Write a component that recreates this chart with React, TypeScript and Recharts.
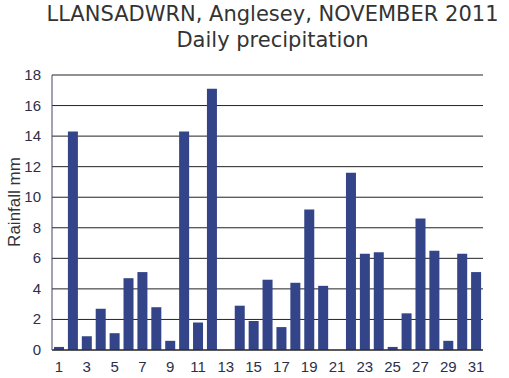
import React from 'react';
import { BarChart, Bar, XAxis, YAxis, CartesianGrid } from 'recharts';

const days = Array.from({ length: 31 }, (_, i) => String(i + 1));
const rainfall = [
  0.2, 14.3, 0.9, 2.7, 1.1, 4.7, 5.1, 2.8, 0.6, 14.3,
  1.8, 17.1, 0, 2.9, 1.9, 4.6, 1.5, 4.4, 9.2, 4.2,
  0, 11.6, 6.3, 6.4, 0.2, 2.4, 8.6, 6.5, 0.6, 6.3, 5.1,
];
const yTicks = [0, 2, 4, 6, 8, 10, 12, 14, 16, 18];

const data = days.map((d, i) => ({ day: d, rain: rainfall[i] }));

const FONT = 'Liberation Sans, Arial, sans-serif';

const XTick = (props: any) => {
  const { x, y, payload } = props;
  return (
    <text x={x} y={y + 14} textAnchor="middle" fontFamily={FONT} fontSize={15} fill="#2e2e4a">
      {payload.value}
    </text>
  );
};

const YTick = (props: any) => {
  const { x, y, payload } = props;
  return (
    <text x={x} y={y + 5} textAnchor="end" fontFamily={FONT} fontSize={15} fill="#2e2e4a">
      {payload.value}
    </text>
  );
};

export default function App() {
  return (
    <div style={{ position: 'absolute', left: 0, top: 0, width: 509, height: 378, background: '#fff' }}>
      <div
        style={{
          position: 'absolute',
          left: 0,
          top: 1,
          width: 545,
          textAlign: 'center',
          fontFamily: "'DejaVu Sans', Verdana, sans-serif",
          fontSize: 21,
          lineHeight: '26px',
          color: '#333',
        }}
      >
        <div>LLANSADWRN, Anglesey, NOVEMBER 2011</div>
        <div>Daily precipitation</div>
      </div>
      <div style={{ position: 'absolute', left: 0, top: 0 }}>
        <BarChart width={509} height={378} data={data} margin={{ top: 75, right: 26, bottom: 8, left: 0 }} barSize={10}>
          <CartesianGrid vertical={false} stroke="#222" horizontalValues={yTicks} />
          <XAxis
            dataKey="day"
            interval={1}
            tickLine={false}
            axisLine={{ stroke: '#222' }}
            tick={<XTick />}
            height={20}
          />
          <YAxis
            domain={[0, 18]}
            ticks={yTicks}
            tickLine={false}
            axisLine={{ stroke: '#444466' }}
            tick={<YTick />}
            width={52}
            tickMargin={5}
          />
          <YAxis yAxisId="r" orientation="right" width={0} tick={false} tickLine={false} axisLine={{ stroke: '#222' }} />
          <Bar dataKey="rain" fill="#334488" isAnimationActive={false} />
        </BarChart>
      </div>
      <div
        style={{
          position: 'absolute',
          left: 15,
          top: 202,
          transform: 'translate(-50%, -50%) rotate(-90deg)',
          whiteSpace: 'nowrap',
          fontFamily: FONT,
          fontSize: 17,
          color: '#333',
        }}
      >
        Rainfall mm
      </div>
    </div>
  );
}
